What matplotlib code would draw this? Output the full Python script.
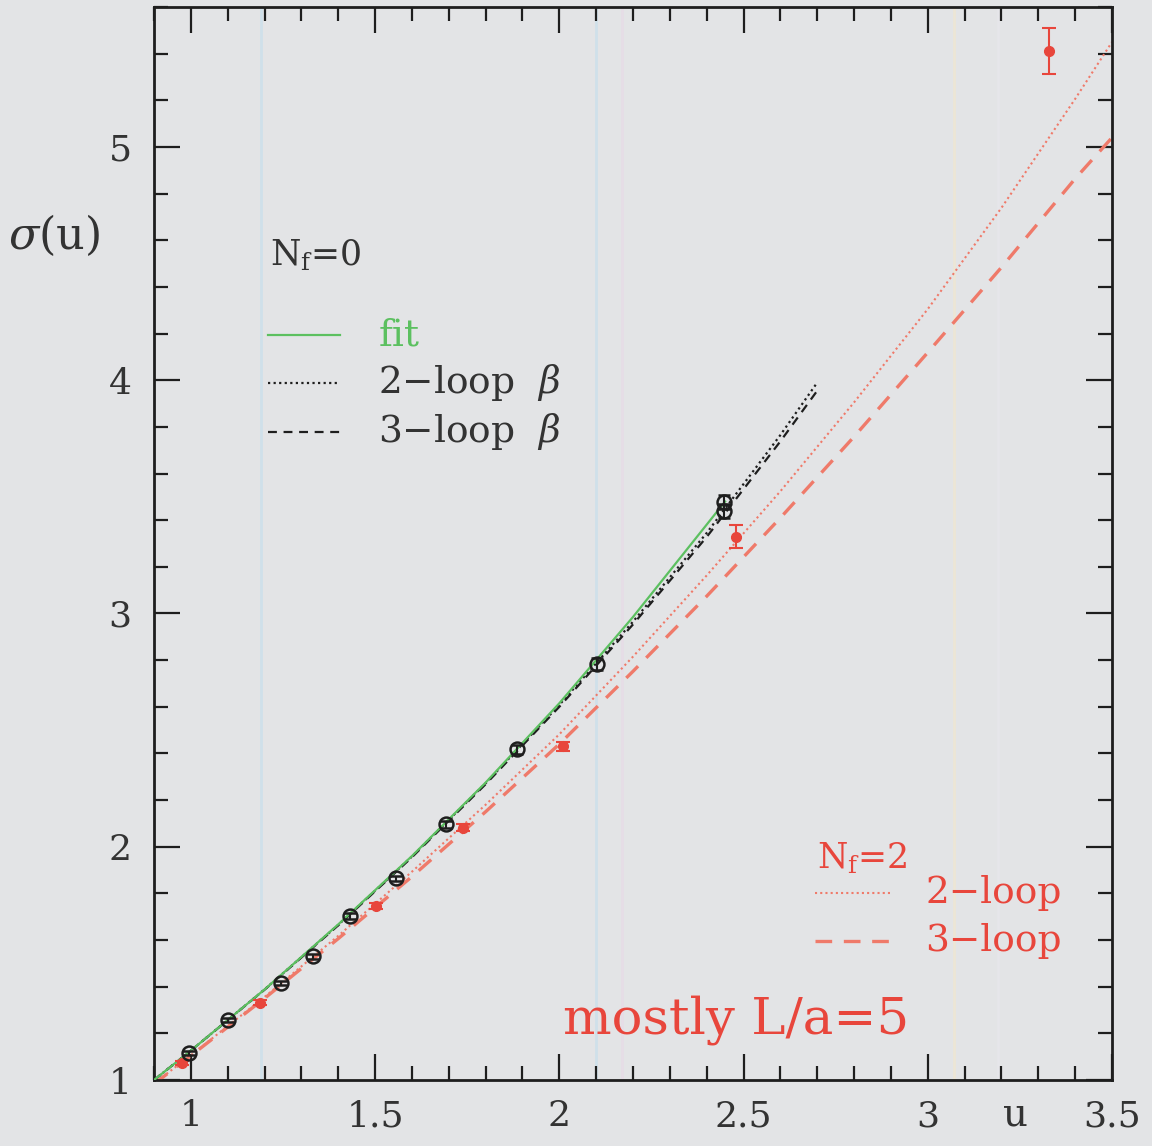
import matplotlib
matplotlib.use("Agg")
import matplotlib.pyplot as plt
from matplotlib.ticker import MultipleLocator
from matplotlib.lines import Line2D

# ---------------- data ----------------
# N_f = 0 data (open circles)
u0 = [0.994, 1.100, 1.246, 1.332, 1.431, 1.558, 1.693, 1.884, 2.103, 2.448, 2.448]
s0 = [1.116, 1.258, 1.416, 1.530, 1.702, 1.864, 2.096, 2.418, 2.783, 3.480, 3.440]
e0 = [0.008, 0.008, 0.008, 0.010, 0.012, 0.012, 0.015, 0.020, 0.025, 0.030, 0.030]

# N_f = 2 data (filled red circles)
u2 = [0.975, 1.187, 1.503, 1.738, 2.009, 2.479, 3.330]
s2 = [1.073, 1.331, 1.745, 2.082, 2.431, 3.329, 5.412]
e2 = [0.008, 0.010, 0.012, 0.015, 0.020, 0.050, 0.100]

# N_f = 0 curves
uc0 = [0.9, 1.0, 1.2, 1.4, 1.6, 1.8, 2.0, 2.2, 2.4, 2.6, 2.7]
loop2_0 = [1.000, 1.126, 1.388, 1.665, 1.958, 2.272, 2.608, 2.965, 3.345, 3.765, 3.990]
loop3_0 = [1.000, 1.126, 1.387, 1.663, 1.955, 2.268, 2.600, 2.953, 3.328, 3.738, 3.955]
ufit = [0.9, 1.0, 1.2, 1.4, 1.6, 1.8, 2.0, 2.2, 2.45]
fit0 = [1.000, 1.126, 1.388, 1.667, 1.960, 2.275, 2.615, 2.985, 3.480]

# N_f = 2 curves
uc2 = [0.9, 1.0, 1.2, 1.4, 1.6, 1.8, 2.0, 2.2, 2.4, 2.6, 2.8, 3.0, 3.2, 3.4, 3.5]
loop2_2 = [0.985, 1.106, 1.356, 1.618, 1.893, 2.180, 2.482, 2.815, 3.163, 3.524,
           3.905, 4.305, 4.739, 5.206, 5.450]
loop3_2 = [0.983, 1.104, 1.350, 1.606, 1.872, 2.150, 2.440, 2.752, 3.074, 3.410,
           3.758, 4.119, 4.484, 4.864, 5.040]

xticks = [1, 1.5, 2, 2.5, 3, 3.5]
xticklabels = ["1", "1.5", "2", "2.5", "3", "3.5"]
yticks = [1, 2, 3, 4, 5]
yticklabels = ["1", "2", "3", "4", "5"]

# ---------------- style ----------------
BG = "#e3e4e6"
BLACK = "#1e1e1e"
GREEN = "#5cc060"
RED = "#e8463c"
RED_LINE = "#ef7a6a"
FONT = "DejaVu Serif"

plt.rcParams["font.family"] = [FONT, "DejaVu Sans"]
plt.rcParams["mathtext.fontset"] = "dejavuserif"

fig = plt.figure(figsize=(11.52, 11.46), dpi=100, facecolor=BG)
ax = fig.add_axes([154 / 1152, (1146 - 1080) / 1146, 958 / 1152, 1073 / 1146])
ax.set_facecolor(BG)

ax.set_xlim(0.9, 3.5)
ax.set_ylim(1.0, 5.6)

# faint scan stripes
for xv, c in [(1.19, "#cfe0ea"), (2.10, "#cfe0ea"), (2.17, "#e6dde6"), (3.07, "#ece6d6"), (3.19, "#e6e6ea")]:
    ax.axvline(xv, color=c, lw=2.0, zorder=0)

# curves N_f = 0
ax.plot(uc0, loop2_0, color=BLACK, lw=1.6, ls=(0, (1, 1.5)), zorder=3)
ax.plot(uc0, loop3_0, color=BLACK, lw=1.6, ls=(0, (4, 3)), zorder=3)
ax.plot(ufit, fit0, color=GREEN, lw=1.6, zorder=3)

# curves N_f = 2
ax.plot(uc2, loop2_2, color=RED_LINE, lw=1.5, ls=(0, (1, 1.5)), zorder=2)
ax.plot(uc2, loop3_2, color=RED_LINE, lw=2.4, ls=(0, (5, 3.5)), zorder=2)

# data
ax.errorbar(u2, s2, yerr=e2, fmt="o", color=RED, ms=7, mfc=RED, mec=RED,
            elinewidth=1.5, capsize=5, capthick=1.5, zorder=5)
ax.errorbar(u0, s0, yerr=e0, fmt="o", color=BLACK, ms=10, mfc="none", mec=BLACK,
            mew=1.8, elinewidth=1.5, capsize=4, capthick=1.5, zorder=6)

# ticks / spines
ax.xaxis.set_major_locator(MultipleLocator(0.5))
ax.xaxis.set_minor_locator(MultipleLocator(0.1))
ax.yaxis.set_major_locator(MultipleLocator(1.0))
ax.yaxis.set_minor_locator(MultipleLocator(0.2))
ax.set_xticks(xticks)
ax.set_xticklabels(xticklabels)
ax.set_yticks(yticks)
ax.set_yticklabels(yticklabels)
ax.tick_params(which="both", direction="in", top=True, right=True, colors=BLACK,
               labelcolor="#333333")
ax.tick_params(which="major", length=19, width=1.6, labelsize=26, pad=14)
ax.tick_params(which="minor", length=10, width=1.6)
ax.tick_params(axis="y", which="major", pad=16)
for sp in ax.spines.values():
    sp.set_linewidth(2.0)
    sp.set_color(BLACK)

# axis labels
fig.text(8 / 1152, 1 - 235 / 1146, r"$\sigma$(u)", fontsize=32, color="#333333",
         va="center", ha="left", family=FONT)
fig.text(1015 / 1152, 1 - 1115 / 1146, "u", fontsize=28, color="#333333",
         va="center", ha="center", family=FONT)

# legend N_f = 0
T = ax.transAxes
ax.text(0.121, 0.769, r"N$_\mathrm{f}$=0", transform=T, fontsize=25, color="#333333",
        va="center", ha="left")
ax.add_line(Line2D([0.119, 0.194], [0.694, 0.694], transform=T, color=GREEN, lw=1.6))
ax.text(0.234, 0.694, "fit", transform=T, fontsize=27, color=GREEN, va="center", ha="left")
ax.add_line(Line2D([0.119, 0.194], [0.650, 0.650], transform=T, color=BLACK, lw=1.6,
                   ls=(0, (1, 1.5))))
ax.text(0.234, 0.650, "2\u2212loop  $\\beta$", transform=T, fontsize=27, color="#333333",
        va="center", ha="left")
ax.add_line(Line2D([0.119, 0.194], [0.604, 0.604], transform=T, color=BLACK, lw=1.6,
                   ls=(0, (4, 3))))
ax.text(0.234, 0.604, "3\u2212loop  $\\beta$", transform=T, fontsize=27, color="#333333",
        va="center", ha="left")

# legend N_f = 2
ax.text(0.692, 0.207, r"N$_\mathrm{f}$=2", transform=T, fontsize=25, color=RED,
        va="center", ha="left")
ax.add_line(Line2D([0.690, 0.768], [0.174, 0.174], transform=T, color=RED_LINE, lw=1.5,
                   ls=(0, (1, 1.5))))
ax.text(0.805, 0.174, "2\u2212loop", transform=T, fontsize=27, color=RED,
        va="center", ha="left")
ax.add_line(Line2D([0.690, 0.768], [0.130, 0.130], transform=T, color=RED_LINE, lw=2.4,
                   ls=(0, (5, 3.5))))
ax.text(0.805, 0.130, "3\u2212loop", transform=T, fontsize=27, color=RED,
        va="center", ha="left")

ax.text(0.427, 0.056, "mostly L/a=5", transform=T, fontsize=37, color=RED,
        va="center", ha="left")

fig.savefig("out.png", dpi=100, facecolor=BG)
